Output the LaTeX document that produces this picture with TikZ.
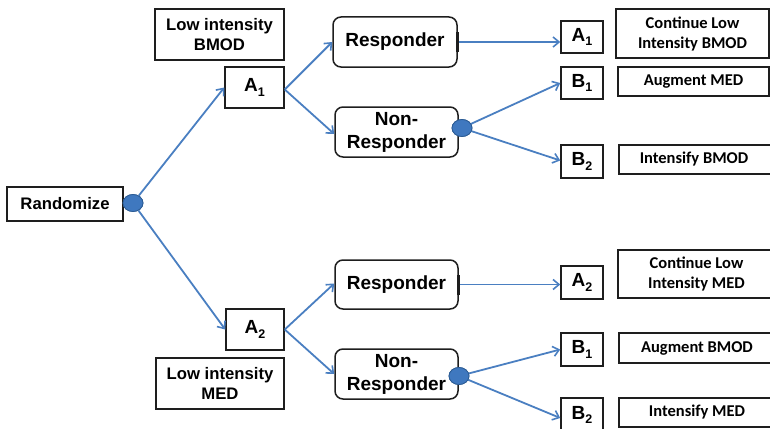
\documentclass[tikz,border=0pt]{standalone}
\usepackage{fontspec}
\setmainfont{Liberation Sans}
\newfontfamily\calfont{Carlito}
\usetikzlibrary{arrows.meta,shapes.geometric}
\definecolor{arrowblue}{HTML}{4A7FC1}
\definecolor{dotfill}{HTML}{3F78BF}
\definecolor{dotedge}{HTML}{2C5C94}
\definecolor{boxline}{HTML}{1E1E1E}
\tikzset{
  box/.style={draw=boxline, line width=1.5pt, inner sep=0pt, align=center, font=\bfseries},
  big/.style={font=\fontsize{19}{23}\selectfont\bfseries},
  mid/.style={font=\fontsize{16.7}{20}\selectfont\bfseries},
  rbox/.style={box, big, rounded corners=8pt},
  calbox/.style={box, font=\calfont\fontsize{16.5}{20}\selectfont\bfseries},
  arr/.style={draw=arrowblue, line width=1.8pt, -{Straight Barb[length=6pt,width=10pt,line width=1.6pt]}},
  dot/.style={ellipse, fill=dotfill, draw=dotedge, line width=0.8pt, minimum width=20pt, minimum height=17pt, inner sep=0pt}
}
\newcommand{\AB}[2]{#1\raisebox{-4.5pt}{\fontsize{12.5}{12.5}\selectfont #2}}
\begin{document}
\begin{tikzpicture}[x=1pt,y=-1pt]
\useasboundingbox (0,0) rectangle (770,428);
\clip (0,0) rectangle (770,428);
% left
\node[box, mid, minimum width=116pt, minimum height=34pt] (rand) at (65,204) {Randomize};
\node[box, mid, minimum width=129pt, minimum height=51pt] (lowB) at (219.5,34.5) {Low intensity\\BMOD};
\node[box, big, minimum width=59pt, minimum height=41pt] (A1) at (254.5,87.5) {\AB{A}{1}};
\node[box, big, minimum width=58pt, minimum height=41pt] (A2) at (255,329.5) {\AB{A}{2}};
\node[box, mid, minimum width=128pt, minimum height=51pt] (lowM) at (220,383.5) {Low intensity\\MED};
% middle
\node[rbox, minimum width=124pt, minimum height=50pt] (resp1) at (395,42) {Responder};
\node[rbox, minimum width=123pt, minimum height=50pt] (nonr1) at (396.5,132) {Non-\\Responder};
\node[rbox, minimum width=123pt, minimum height=49pt] (resp2) at (396.5,284.5) {Responder};
\node[rbox, minimum width=123pt, minimum height=50pt] (nonr2) at (396.5,374) {Non-\\Responder};
% right letters
\node[box, big, minimum width=42pt, minimum height=32pt] (A1r) at (582,37) {\AB{A}{1}};
\node[box, big, minimum width=42pt, minimum height=32pt] (B1a) at (582,83) {\AB{B}{1}};
\node[box, big, minimum width=42pt, minimum height=33pt] (B2a) at (582,161.5) {\AB{B}{2}};
\node[box, big, minimum width=42pt, minimum height=33pt] (A2r) at (582,282.5) {\AB{A}{2}};
\node[box, big, minimum width=42pt, minimum height=33pt] (B1b) at (582,349.5) {\AB{B}{1}};
\node[box, big, minimum width=42pt, minimum height=34pt] (B2b) at (582,415) {\AB{B}{2}};
% right descriptions
\node[calbox, minimum width=153pt, minimum height=49pt] (cont1) at (692.5,33.5) {Continue Low\\Intensity BMOD};
\node[calbox, minimum width=151pt, minimum height=29pt] (augM) at (693.5,81.5) {Augment MED};
\node[calbox, minimum width=156pt, minimum height=29pt] (intB) at (697,159.5) {\hspace*{-3pt}Intensify BMOD\hspace*{3pt}};
\node[calbox, minimum width=157pt, minimum height=48pt] (cont2) at (696.5,274) {Continue Low\\Intensity MED};
\node[calbox, minimum width=156pt, minimum height=30pt] (augB) at (697,348) {Augment BMOD};
\node[calbox, minimum width=156pt, minimum height=29pt] (intM) at (697,412.5) {Intensify MED};
% dots
\node[dot] (d0) at (133,203) {};
\node[dot] (d1) at (462,128) {};
\node[dot] (d2) at (459,376) {};
% arrows
\draw[arr] (d0) -- (A1.west);
\draw[arr] (d0) -- (A2.west);
\draw[arr] ([yshift=-2pt]A1.east) -- (resp1.west);
\draw[arr] ([yshift=-2pt]A1.east) -- ([yshift=-2pt]nonr1.west);
\draw[arr] (A2.east) -- ([yshift=1pt]resp2.west);
\draw[arr] (A2.east) -- (nonr2.west);
\draw[arr] (resp1.east) -- (resp1.east -| A1r.west);
\draw[arr] (resp2.east) -- (resp2.east -| A2r.west);
\draw[arr] (d1) -- (B1a.west);
\draw[arr] (d1) -- ([yshift=1pt]B2a.west);
\draw[arr] (d2) -- (B1b.west);
\draw[arr] (d2) -- ([yshift=-3pt]B2b.west);
% thick ticks at responder edges
\draw[boxline, line width=2.6pt] ([yshift=-10pt]resp1.east) -- ([yshift=10pt]resp1.east);
\draw[boxline, line width=2.6pt] ([yshift=-10pt]resp2.east) -- ([yshift=10pt]resp2.east);
% redraw dots on top
\node[dot] at (d0) {};
\node[dot] at (d1) {};
\node[dot] at (d2) {};
\end{tikzpicture}
\end{document}
